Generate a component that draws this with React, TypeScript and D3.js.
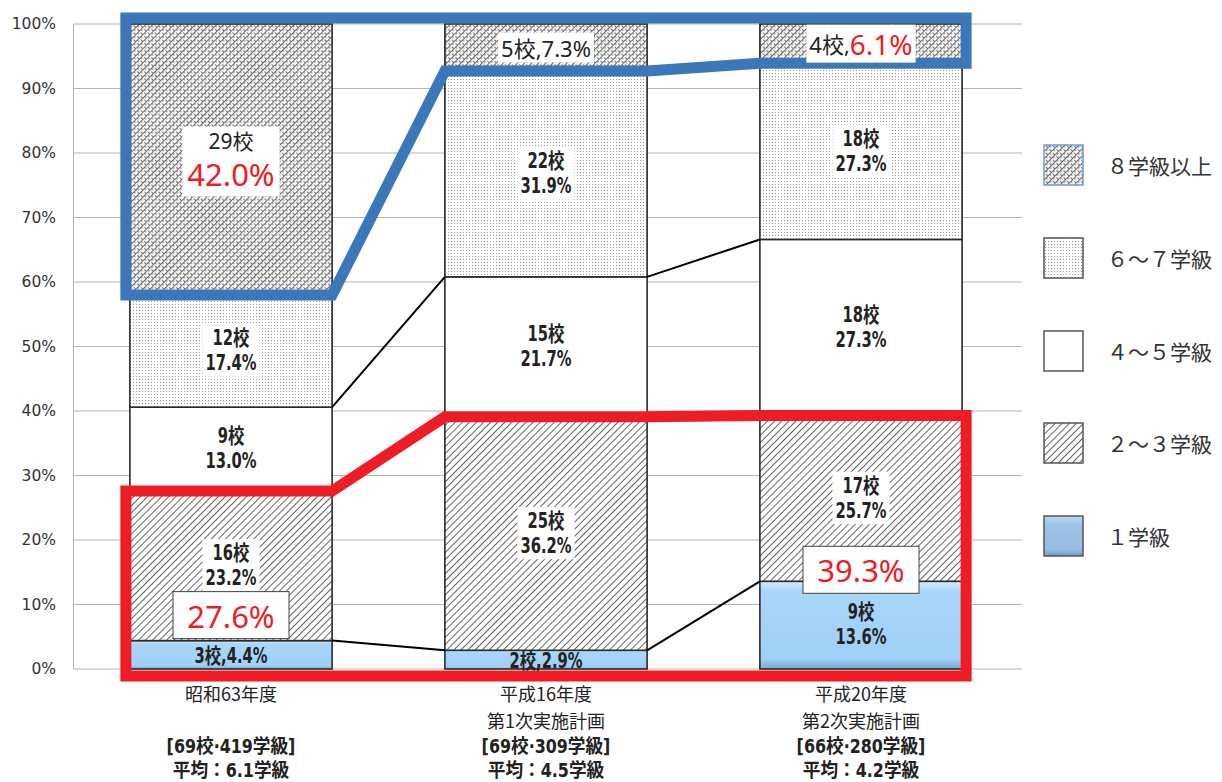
import React, { useEffect, useRef } from "react";
import * as d3 from "d3";

// ---- data ----
const categories = ["昭和63年度", "平成16年度", "平成20年度"];
const planLabels = ["", "第1次実施計画", "第2次実施計画"];
const totalLabels = ["[69校·419学級]", "[69校·309学級]", "[66校·280学級]"];
const averageLabels = ["平均：6.1学級", "平均：4.5学級", "平均：4.2学級"];
const groups = ["１学級", "２～３学級", "４～５学級", "６～７学級", "８学級以上"];

const schools1 = [3, 2, 9];
const schools23 = [16, 25, 17];
const schools45 = [9, 15, 18];
const schools67 = [12, 22, 18];
const schools8 = [29, 5, 4];

const pct1 = [4.4, 2.9, 13.6];
const pct23 = [23.2, 36.2, 25.7];
const pct45 = [13.0, 21.7, 27.3];
const pct67 = [17.4, 31.9, 27.3];
const pct8 = [42.0, 7.3, 6.1];

const yTicks = [0, 10, 20, 30, 40, 50, 60, 70, 80, 90, 100];

// highlighted (red) percentage cells of the 8+ group
const redPct8 = [true, false, true];
// red callouts (1学級 + 2～3学級 share) shown for these bars
const smallShareCallout = [true, false, true];

// ---- layout ----
const W = 1222, H = 782;
const plotL = 73.5, plotR = 1018.5, plotT = 24, plotB = 669;
const RED = "#ee1c25", BLUE = "#3b77b9";
const boldFont = "'DejaVu Sans Condensed', 'Noto Sans CJK JP', sans-serif";
const jpFont = "'Noto Sans CJK JP', 'Noto Sans', sans-serif";
const numFont = "'Noto Sans', 'Noto Sans CJK JP', sans-serif";

function BoldText({ x, y, text, size = 21, sx = 0.78 }: { x: number; y: number; text: string; size?: number; sx?: number }) {
  return (
    <text transform={`translate(${x},${y}) scale(${sx},1)`} textAnchor="middle" dominantBaseline="central"
      fontFamily={boldFont} fontWeight="bold" fontSize={size} fill="#222">{text}</text>
  );
}

export default function App() {
  const ref = useRef<SVGSVGElement>(null);

  const pcts = [pct1, pct23, pct45, pct67, pct8];
  const counts = [schools1, schools23, schools45, schools67, schools8];
  const rows = categories.map((c, i) => {
    const r: any = { cat: c };
    groups.forEach((g, k) => (r[g] = pcts[k][i]));
    return r;
  });
  const stacked = d3.stack<any>().keys(groups)(rows);

  const x = d3.scalePoint<string>().domain(categories).range([plotL, plotR]).padding(0.5);
  const y = d3.scaleLinear().domain([0, 100]).range([plotB, plotT]);
  const bw = x.step() * 0.642;

  const cum = (i: number, k: number) => stacked[k][i][1];
  const left = (i: number) => (x(categories[i]) as number) - bw / 2;
  const right = (i: number) => (x(categories[i]) as number) + bw / 2;

  const fills = ["url(#blueGrad)", "url(#hatch)", "#ffffff", "url(#dots)", "url(#weave)"];

  // outline paths
  const padX = 4;
  const line = d3.line<[number, number]>();
  const redTop: [number, number][] = [];
  const blueBot: [number, number][] = [];
  categories.forEach((c, i) => {
    const a = i === 0 ? left(i) - padX : left(i);
    const b = i === categories.length - 1 ? right(i) + padX : right(i);
    redTop.push([a, y(cum(i, 1))], [b, y(cum(i, 1))]);
    blueBot.push([a, y(cum(i, 3))], [b, y(cum(i, 3))]);
  });
  const lastR = right(categories.length - 1) + padX;
  const firstL = left(0) - padX;
  const redPath = line([...redTop, [lastR, plotB + 7], [firstL, plotB + 7]]) + "Z";
  const bluePath = line([...blueBot, [lastR, plotT - 6], [firstL, plotT - 6]]) + "Z";

  useEffect(() => {
    const svg = d3.select(ref.current);
    svg.selectAll<SVGGElement, unknown>("g.boxed").each(function () {
      const g = d3.select(this);
      const t = g.select<SVGGElement>("g.lt").node();
      if (!t) return;
      const bb = t.getBBox();
      g.selectAll("rect.bg").remove();
      const px = +(g.attr("data-px") || 4), py = +(g.attr("data-py") || 1);
      g.insert("rect", ":first-child")
        .attr("class", "bg")
        .attr("x", bb.x - px)
        .attr("y", bb.y - py)
        .attr("width", bb.width + 2 * px)
        .attr("height", bb.height + 2 * py)
        .attr("fill", "#fff");
    });
  });

  const labels: JSX.Element[] = [];
  categories.forEach((c, i) => {
    const cx = x(c) as number;
    groups.forEach((g, k) => {
      const lo = stacked[k][i][0], hi = stacked[k][i][1];
      const mid = y((lo + hi) / 2);
      const n = counts[k][i];
      const p = pcts[k][i].toFixed(1) + "%";
      if (k === 0) {
        if (pcts[k][i] < 8) {
          labels.push(<BoldText key={`l${i}${k}`} x={cx} y={mid + 1} text={`${n}校,${p}`} />);
        } else {
          labels.push(
            <g key={`l${i}${k}`}>
              <BoldText x={cx} y={mid - 13} text={`${n}校`} />
              <BoldText x={cx} y={mid + 12} text={p} />
            </g>
          );
        }
      } else if (k < 4) {
        labels.push(
          <g key={`l${i}${k}`} className="boxed" data-px="3" data-py="2">
            <g className="lt">
              <BoldText x={cx} y={mid - 13} text={`${n}校`} />
              <BoldText x={cx} y={mid + 12} text={p} />
            </g>
          </g>
        );
      } else {
        if (pcts[k][i] >= 20) {
          labels.push(
            <g key={`l${i}${k}`} className="boxed" data-px="5" data-py="1">
              <g className="lt">
                <text x={cx} y={mid - 18} textAnchor="middle" dominantBaseline="central" fontFamily={numFont} fontSize={21} fill="#222">{`${n}校`}</text>
                <text x={cx} y={mid + 15} textAnchor="middle" dominantBaseline="central" fontFamily={numFont} fontSize={31} fill={redPct8[i] ? RED : "#222"}>{p}</text>
              </g>
            </g>
          );
        } else {
          labels.push(
            <g key={`l${i}${k}`} className="boxed" data-px="3" data-py="0">
              <g className="lt">
                <text x={cx} y={mid} textAnchor="middle" dominantBaseline="central" fontFamily={numFont}>
                  <tspan fontSize={22} fill="#222">{`${n}校,`}</tspan>
                  <tspan fontSize={redPct8[i] ? 28 : 22} fill={redPct8[i] ? RED : "#222"}>{p}</tspan>
                </text>
              </g>
            </g>
          );
        }
      }
    });
    if (smallShareCallout[i]) {
      const share = cum(i, 1);
      const b1 = y(cum(i, 0));
      const cy = pcts[0][i] < 8 ? b1 - 26 : b1 - 12;
      labels.push(
        <g key={`c${i}`}>
          <rect x={cx - 58} y={cy - 23} width={116} height={47} fill="#fff" stroke="#444" strokeWidth={1} />
          <text x={cx} y={cy + 1} textAnchor="middle" dominantBaseline="central" fontFamily={numFont} fontSize={31} fill={RED}>
            {share.toFixed(1) + "%"}
          </text>
        </g>
      );
    }
  });

  // series lines between bars
  const seriesLines: JSX.Element[] = [];
  for (let i = 0; i < categories.length - 1; i++) {
    for (let k = 0; k < groups.length - 1; k++) {
      seriesLines.push(
        <line key={`s${i}${k}`} x1={right(i)} y1={y(cum(i, k))} x2={left(i + 1)} y2={y(cum(i + 1, k))}
          stroke="#000" strokeWidth={2} />
      );
    }
  }

  const legendY = [145, 238, 331, 423, 516];
  const legendOrder = [4, 3, 2, 1, 0];

  return (
    <svg ref={ref} width={W} height={H} style={{ position: "absolute", left: 0, top: 0, background: "#fff" }}>
      <defs>
        <linearGradient id="blueGrad" x1="0" y1="0" x2="0" y2="1">
          <stop offset="0" stopColor="#d4edfd" />
          <stop offset="0.12" stopColor="#a8d6f9" />
          <stop offset="0.88" stopColor="#9fd0f5" />
          <stop offset="1" stopColor="#7aaad2" />
        </linearGradient>
        <linearGradient id="legBlue" x1="0" y1="0" x2="0" y2="1">
          <stop offset="0" stopColor="#c2dbf2" />
          <stop offset="0.2" stopColor="#9dc3e6" />
          <stop offset="0.85" stopColor="#95bde2" />
          <stop offset="1" stopColor="#6f95bb" />
        </linearGradient>
        <pattern id="hatch" width="5" height="5" patternUnits="userSpaceOnUse" patternTransform="rotate(45)">
          <rect width="5" height="5" fill="#fff" />
          <line x1="0" y1="0" x2="0" y2="5" stroke="#3a3a3a" strokeWidth="1.6" />
        </pattern>
        <pattern id="dots" width="3" height="3" patternUnits="userSpaceOnUse">
          <rect width="3" height="3" fill="#fff" />
          <rect x="1" y="1" width="1" height="1" fill="#999" />
        </pattern>
        <pattern id="weave" width="5" height="5" patternUnits="userSpaceOnUse" patternTransform="rotate(45)">
          <rect width="5" height="5" fill="#fff" />
          <line x1="0" y1="0" x2="0" y2="5" stroke="#4a4a4a" strokeWidth="1.6" />
          <line x1="0" y1="1" x2="2.5" y2="1" stroke="#6a6a6a" strokeWidth="1.1" />
          <line x1="2.5" y1="3.5" x2="5" y2="3.5" stroke="#6a6a6a" strokeWidth="1.1" />
        </pattern>
      </defs>

      {/* gridlines */}
      {yTicks.map((t) => (
        <g key={`g${t}`}>
          <line x1={plotL} x2={1022} y1={y(t)} y2={y(t)} stroke="#b4b4b4" strokeWidth={1} />
          <text x={56} y={y(t)} textAnchor="end" dominantBaseline="central" fontFamily="'DejaVu Sans', sans-serif"
            fontSize={15.5} fill="#333">{`${t}%`}</text>
        </g>
      ))}
      <line x1={plotL} x2={plotL} y1={plotT} y2={plotB} stroke="#b4b4b4" strokeWidth={1} />

      {/* bars */}
      {stacked.map((s, k) => (
        <g key={`b${k}`}>
          {s.map((d, i) => (
            <rect key={i} x={left(i)} width={bw} y={y(d[1])} height={y(d[0]) - y(d[1])}
              fill={fills[k]} stroke="#2a2a2a" strokeWidth={1.6} />
          ))}
        </g>
      ))}

      {seriesLines}

      {/* highlight outlines */}
      <path d={bluePath} fill="none" stroke={BLUE} strokeWidth={11} strokeLinejoin="miter" />
      <path d={redPath} fill="none" stroke={RED} strokeWidth={11} strokeLinejoin="miter" />

      {labels}

      {/* category labels */}
      {categories.map((c, i) => {
        const cx = x(c) as number;
        return (
          <g key={`c${i}`}>
            <text x={cx} y={693} textAnchor="middle" dominantBaseline="central" fontFamily={jpFont} fontSize={18} fill="#222">{c}</text>
            {planLabels[i] && (
              <text x={cx} y={720} textAnchor="middle" dominantBaseline="central" fontFamily={jpFont} fontSize={18} fill="#222">{planLabels[i]}</text>
            )}
            <BoldText x={cx} y={746} text={totalLabels[i]} size={19} sx={0.93} />
            <BoldText x={cx} y={770} text={averageLabels[i]} size={19} sx={0.93} />
          </g>
        );
      })}

      {/* legend */}
      {legendOrder.map((k, j) => (
        <g key={`lg${k}`}>
          <rect x={1044} y={legendY[j]} width={39} height={40}
            fill={k === 0 ? "url(#legBlue)" : fills[k]} stroke={k === 4 ? "#6f9fd0" : "#555"} strokeWidth={1.5} />
          <text x={1107} y={legendY[j] + 20} dominantBaseline="central" fontFamily={jpFont} fontSize={21} fill="#333">{groups[k]}</text>
        </g>
      ))}
    </svg>
  );
}
